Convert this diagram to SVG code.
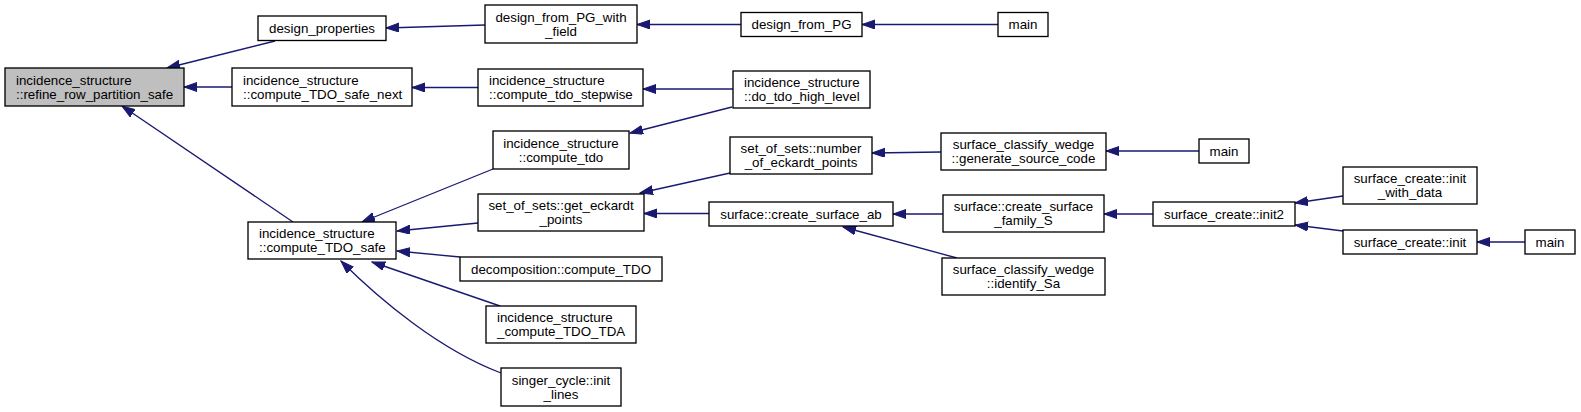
<svg xmlns="http://www.w3.org/2000/svg" width="1581" height="412" viewBox="0 0 1581 412">
<style>
.n rect{fill:#ffffff;stroke:#000000;stroke-width:1.33}
.n.g rect{fill:#bfbfbf}
.n text{font-family:"Liberation Sans",Arial,Helvetica,sans-serif;font-size:13.33px;fill:#000000}
.c{text-anchor:middle}
.e path{fill:none;stroke:#191970;stroke-width:1.33;marker-end:url(#ah)}
</style>
<defs>
<marker id="ah" markerUnits="userSpaceOnUse" markerWidth="14" markerHeight="10" refX="13" refY="4.5" orient="auto">
<path d="M0,0 L13,4.5 L0,9 z" fill="#191970" stroke="#191970" stroke-width="1"/>
</marker>
</defs>
<rect width="1581" height="412" fill="#ffffff"/>
<g id="edges" class="e">
<path d="M275,41 L167,68"/>
<path d="M232,87 L184,87"/>
<path d="M293,222 L122,106"/>
<path d="M485,25 L386,28"/>
<path d="M478,87.5 L412,87.5"/>
<path d="M493,169 L362,222"/>
<path d="M478,223 L397,231"/>
<path d="M460,257 L397,251"/>
<path d="M500,306 L372,262"/>
<path d="M501,373 C440,350 380,300 341,261"/>
<path d="M733,89 L643,89"/>
<path d="M732,107 L630,133"/>
<path d="M741,24.5 L637,24.5"/>
<path d="M998,24.5 L862,24.5"/>
<path d="M730,173 L640,193"/>
<path d="M709,213.5 L644,213.5"/>
<path d="M941,152 L872,153"/>
<path d="M1199,151 L1106,151"/>
<path d="M943,214 L893,214"/>
<path d="M957,258 L843,227"/>
<path d="M1153,214 L1104,214"/>
<path d="M1343,196 L1295,203"/>
<path d="M1343,231 L1295,225"/>
<path d="M1525,242 L1477,242"/>
</g>
<g id="refine_row_partition_safe" class="n g"><rect x="5" y="68" width="179" height="38"/><text x="16" y="84.5">incidence_structure</text><text x="16" y="98.5">::refine_row_partition_safe</text></g>
<g id="design_properties" class="n"><rect x="258" y="16" width="128" height="24.5"/><text class="c" x="322" y="32.8">design_properties</text></g>
<g id="compute_TDO_safe_next" class="n"><rect x="232" y="68" width="180" height="38"/><text x="243" y="84.5">incidence_structure</text><text x="243" y="98.5">::compute_TDO_safe_next</text></g>
<g id="compute_TDO_safe" class="n"><rect x="248" y="222" width="148" height="37"/><text x="259" y="238">incidence_structure</text><text x="259" y="252">::compute_TDO_safe</text></g>
<g id="design_from_PG_with_field" class="n"><rect x="485" y="5" width="152" height="38"/><text class="c" x="561" y="21.5">design_from_PG_with</text><text class="c" x="561" y="35.5">_field</text></g>
<g id="compute_tdo_stepwise" class="n"><rect x="478" y="69" width="165" height="37"/><text x="489" y="85">incidence_structure</text><text x="489" y="99">::compute_tdo_stepwise</text></g>
<g id="compute_tdo" class="n"><rect x="493" y="131" width="136" height="38"/><text class="c" x="561" y="147.5">incidence_structure</text><text class="c" x="561" y="161.5">::compute_tdo</text></g>
<g id="get_eckardt_points" class="n"><rect x="478" y="194" width="166" height="37"/><text class="c" x="561" y="210">set_of_sets::get_eckardt</text><text class="c" x="561" y="224">_points</text></g>
<g id="decomposition_compute_TDO" class="n"><rect x="460" y="257" width="202" height="24"/><text class="c" x="561" y="273.5">decomposition::compute_TDO</text></g>
<g id="compute_TDO_TDA" class="n"><rect x="486" y="306" width="150" height="37"/><text x="497" y="322">incidence_structure</text><text x="497" y="336">_compute_TDO_TDA</text></g>
<g id="singer_init_lines" class="n"><rect x="501" y="368" width="120" height="38"/><text class="c" x="561" y="384.5">singer_cycle::init</text><text class="c" x="561" y="398.5">_lines</text></g>
<g id="design_from_PG" class="n"><rect x="741" y="12.5" width="121" height="24"/><text class="c" x="801.5" y="29">design_from_PG</text></g>
<g id="main1" class="n"><rect x="998" y="12.5" width="50" height="24"/><text class="c" x="1023" y="29">main</text></g>
<g id="do_tdo_high_level" class="n"><rect x="733" y="71" width="137" height="37"/><text x="744" y="87">incidence_structure</text><text x="744" y="101">::do_tdo_high_level</text></g>
<g id="number_of_eckardt_points" class="n"><rect x="730" y="137" width="142" height="37"/><text class="c" x="801" y="153">set_of_sets::number</text><text class="c" x="801" y="167">_of_eckardt_points</text></g>
<g id="create_surface_ab" class="n"><rect x="709" y="202" width="184" height="24"/><text class="c" x="801" y="218.5">surface::create_surface_ab</text></g>
<g id="generate_source_code" class="n"><rect x="941" y="133" width="165" height="37"/><text class="c" x="1023.5" y="149">surface_classify_wedge</text><text class="c" x="1023.5" y="163">::generate_source_code</text></g>
<g id="main2" class="n"><rect x="1199" y="139" width="50" height="24"/><text class="c" x="1224" y="155.5">main</text></g>
<g id="create_surface_family_S" class="n"><rect x="943" y="195" width="161" height="37"/><text class="c" x="1023.5" y="211">surface::create_surface</text><text class="c" x="1023.5" y="225">_family_S</text></g>
<g id="identify_Sa" class="n"><rect x="942" y="258" width="163" height="37"/><text class="c" x="1023.5" y="274">surface_classify_wedge</text><text class="c" x="1023.5" y="288">::identify_Sa</text></g>
<g id="init2" class="n"><rect x="1153" y="202" width="142" height="24"/><text class="c" x="1224" y="218.5">surface_create::init2</text></g>
<g id="init_with_data" class="n"><rect x="1343" y="167" width="134" height="37"/><text class="c" x="1410" y="183">surface_create::init</text><text class="c" x="1410" y="197">_with_data</text></g>
<g id="init" class="n"><rect x="1343" y="230" width="134" height="24"/><text class="c" x="1410" y="246.5">surface_create::init</text></g>
<g id="main3" class="n"><rect x="1525" y="230" width="50" height="24"/><text class="c" x="1550" y="246.5">main</text></g>
</svg>
